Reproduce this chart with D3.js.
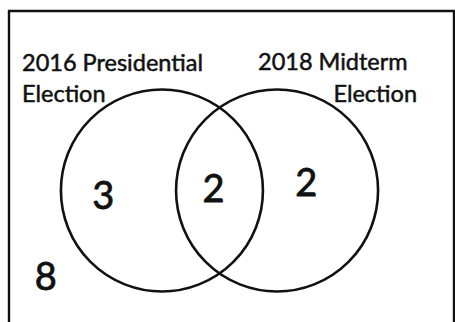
<!DOCTYPE html>
<html>
<head>
<meta charset="utf-8">
<script src="https://cdn.jsdelivr.net/npm/d3@7"></script>
<style>
  html, body { margin: 0; padding: 0; background: #fff; }
  svg { display: block; }
</style>
</head>
<body>
<div id="venn"></div>
<script>
// two sets, counted regions
const setNames = ['2016 Presidential Election', '2018 Midterm Election'];
const labelLines = [['2016 Presidential', 'Election'], ['2018 Midterm', 'Election']];
const regionKeys = ['2016 only', 'both', '2018 only', 'neither'];
const regionCounts = [3, 2, 2, 8];

const width = 455;
const height = 322;

// venn layout in unit space (radius = 1)
const circleCenters = [-0.57, 0.57];
const regionX = [-1.15, -0.06, 0.86, -1.72];
const regionY = [0.05, -0.02, -0.08, 0.85];

const x = d3.scaleLinear().domain([0, 1]).range([219.5, 320.5]);
const y = d3.scaleLinear().domain([0, 1]).range([190.5, 291.5]);

const svg = d3.select('#venn')
  .append('svg')
  .attr('width', width)
  .attr('height', height);

svg.append('rect')
  .attr('width', width)
  .attr('height', height)
  .attr('fill', '#fff');

// frame (open at the bottom, as in the original crop)
svg.append('path')
  .attr('d', `M9,${height} L9,11 L${width - 1},11 L${width - 1},${height}`)
  .attr('fill', 'none')
  .attr('stroke', '#111')
  .attr('stroke-width', 2.4);

svg.append('g')
  .selectAll('circle')
  .data(setNames)
  .join('circle')
  .attr('cx', (d, i) => x(circleCenters[i]))
  .attr('cy', y(0))
  .attr('r', x(1) - x(0))
  .attr('fill', 'none')
  .attr('stroke', '#111')
  .attr('stroke-width', 2.6);

const font = 'Lato, "Open Sans", sans-serif';

// set labels
const labelAnchor = [
  [{ x: 22, y: 71, a: 'start' }, { x: 22, y: 102, a: 'start' }],
  [{ x: 258, y: 70, a: 'start' }, { x: 417, y: 102, a: 'end' }]
];

labelLines.forEach((lines, i) => {
  svg.append('g')
    .selectAll('text')
    .data(lines)
    .join('text')
    .attr('x', (d, j) => labelAnchor[i][j].x)
    .attr('y', (d, j) => labelAnchor[i][j].y)
    .attr('text-anchor', (d, j) => labelAnchor[i][j].a)
    .style('font-family', font)
    .style('font-size', '23.5px')
    .attr('fill', '#111')
    .attr('stroke', '#111')
    .attr('stroke-width', 0.5)
    .text(d => d);
});

// region counts
svg.append('g')
  .selectAll('text')
  .data(regionCounts)
  .join('text')
  .attr('x', (d, i) => x(regionX[i]))
  .attr('y', (d, i) => y(regionY[i]))
  .attr('dy', '0.35em')
  .attr('text-anchor', 'middle')
  .style('font-family', font)
  .style('font-size', '38px')
  .attr('fill', '#111')
  .attr('stroke', '#111')
  .attr('stroke-width', 0.8)
  .text(d => d);
</script>
</body>
</html>
